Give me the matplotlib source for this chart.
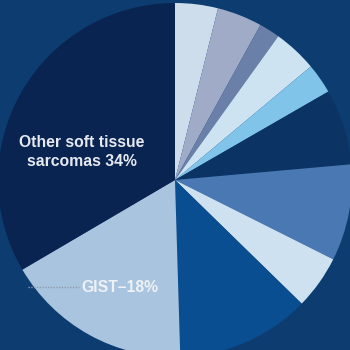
import matplotlib
matplotlib.use("Agg")
import matplotlib.pyplot as plt

# Slices clockwise from 12 o'clock
labels = ["", "", "", "", "", "", "", "", "", "GIST\u201318%", "Other soft tissue\nsarcomas 34%"]
values = [3.9, 4.1, 1.9, 4.0, 2.75, 6.9, 8.8, 4.9, 12.2, 17.0, 33.4]
colors = ["#cdddec", "#a0abc8", "#6b80a8", "#cde3f2", "#80c4ea", "#0b3465",
          "#4a78b2", "#cde1f0", "#0a4e92", "#a9c4de", "#0a2452"]
bg = "#0d3d70"

fig = plt.figure(figsize=(3.5, 3.5), dpi=100, facecolor=bg)
ax = fig.add_axes([0, 0, 1, 1])
ax.set_facecolor(bg)

cx, cy, R = 175, 170, 177
ax.pie(values, colors=colors, startangle=90, counterclock=False,
       radius=R, center=(cx, cy), frame=True,
       wedgeprops=dict(linewidth=0))
ax.set_xlim(0, 350)
ax.set_ylim(0, 350)
ax.set_aspect("equal")
ax.axis("off")

font = ["Liberation Sans", "DejaVu Sans"]
ax.text(82, 350 - 152, labels[10], ha="center", va="center", color="#e6eaf0",
        fontsize=11.3, family=font, fontweight="bold", linespacing=1.3)
ax.text(81, 350 - 287, labels[9], ha="left", va="center", color="#eef2f6",
        fontsize=11.3, family=font, fontweight="bold")
ax.plot([28, 79], [350 - 287, 350 - 287], color="#8c9cb0", linestyle=(0, (1, 1)), linewidth=1)

fig.savefig("out.png", dpi=100, facecolor=bg)
